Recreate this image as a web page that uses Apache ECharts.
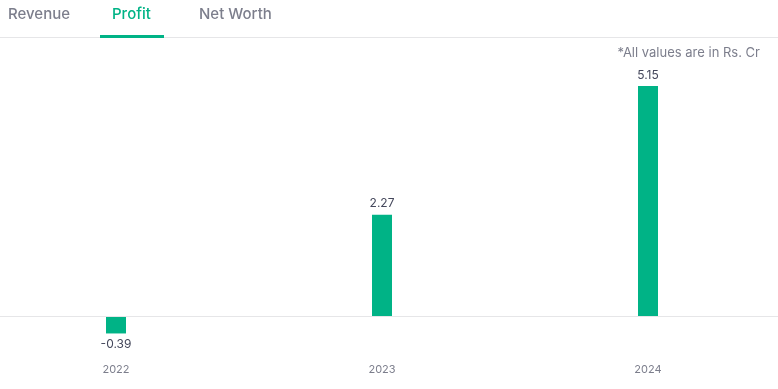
<!DOCTYPE html>
<html><head><meta charset="utf-8">
<script src="https://cdn.jsdelivr.net/npm/echarts@6/dist/echarts.min.js"></script>
<style>html,body{margin:0;padding:0;background:#fff}#c{width:778px;height:389px}</style>
</head><body><div id="c"></div>
<script>
const categories = ['2022', '2023', '2024'];
const profit = [-0.39, 2.27, 5.15];
const tabs = ['Revenue', 'Profit', 'Net Worth'];
const note = '*All values are in Rs. Cr';

const chart = echarts.init(document.getElementById('c'));
const font = 'Inter, Roboto, sans-serif';
chart.setOption({
  animation: false,
  grid: { left: -17, width: 798, top: 66, bottom: 35, outerBoundsMode: 'none', containLabel: false },
  xAxis: {
    type: 'category', data: categories,
    axisLine: { show: true, lineStyle: { color: '#e6e6e8', width: 1 } },
    axisTick: { show: false },
    axisLabel: { color: '#7c7e8c', fontSize: 11, fontFamily: font, margin: 10 }
  },
  yAxis: { type: 'value', min: -0.85, max: 5.6, show: false, splitLine: { show: false } },
  graphic: [
    { type: 'text', left: 8, top: 7, style: { text: tabs[0], fill: '#7c7e8c', font: '500 15px ' + font } },
    { type: 'text', left: 112, top: 7, style: { text: tabs[1], fill: '#00b386', font: '500 15px ' + font } },
    { type: 'text', left: 199, top: 7, style: { text: tabs[2], fill: '#7c7e8c', font: '500 15px ' + font } },
    { type: 'rect', shape: { x: 0, y: 37, width: 778, height: 1 }, style: { fill: '#e6e6e8' } },
    { type: 'rect', shape: { x: 100, y: 35, width: 64, height: 3 }, style: { fill: '#00b386' } },
    { type: 'text', right: 18, top: 47, style: { text: note, fill: '#7c7e8c', font: '13px ' + font } }
  ],
  series: [{
    type: 'bar', barWidth: 20,
    data: profit.map(v => v < 0 ? { value: v, label: { position: 'bottom' } } : v),
    itemStyle: { color: '#00b386' },
    label: { show: true, position: 'top', color: '#44475b', fontSize: 12, fontFamily: font, distance: 5,
      formatter: p => p.value.toFixed(2) },
    markLine: {
      silent: true, symbol: 'none', label: { show: false },
      lineStyle: { color: '#e6e6e8', type: 'solid', width: 1 },
      data: [{ yAxis: 0 }]
    }
  }]
});
</script></body></html>
